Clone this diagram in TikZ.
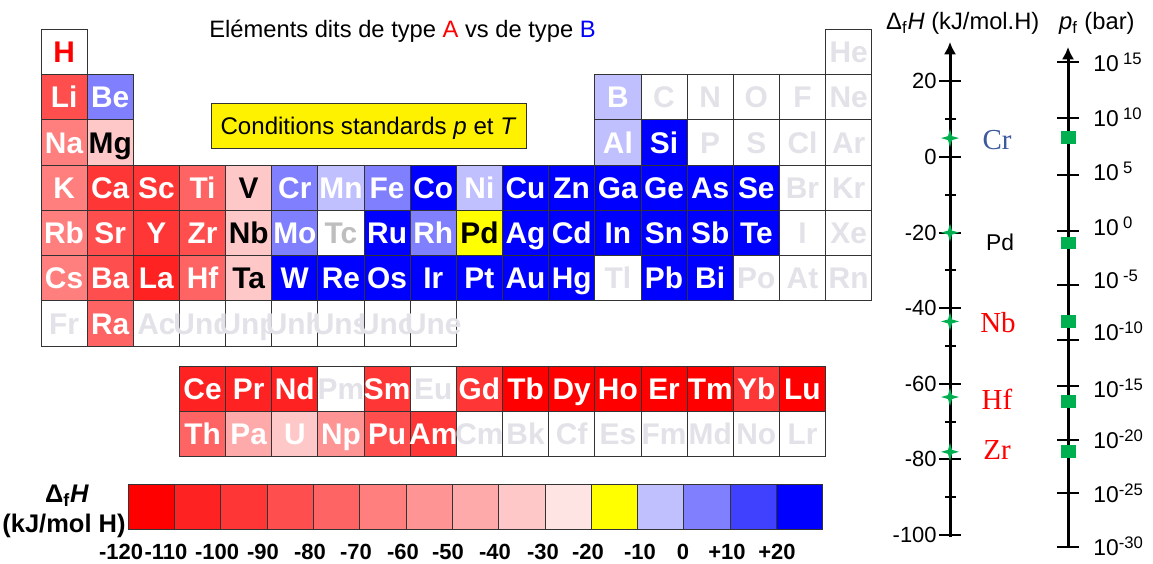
\documentclass[tikz,border=0pt]{standalone}
\usepackage{fontspec}
\setmainfont{Liberation Sans}
\newfontfamily\timesf{Liberation Serif}
\usetikzlibrary{arrows.meta, positioning, shapes.geometric}

% colour scale (kJ/mol H)
\definecolor{s1}{HTML}{FF0000}
\definecolor{s2}{HTML}{FF2222}
\definecolor{s3}{HTML}{FF3636}
\definecolor{s4}{HTML}{FF4E4E}
\definecolor{s5}{HTML}{FF6464}
\definecolor{s6}{HTML}{FF7E7E}
\definecolor{s7}{HTML}{FF9494}
\definecolor{s8}{HTML}{FFAAAA}
\definecolor{s9}{HTML}{FFC8C8}
\definecolor{s10}{HTML}{FFE4E4}
\definecolor{s11}{HTML}{FFFF00}
\definecolor{s12}{HTML}{C0C0FF}
\definecolor{s13}{HTML}{8080FF}
\definecolor{s14}{HTML}{4040FF}
\definecolor{s15}{HTML}{0000FF}
\definecolor{ghost}{HTML}{E2E2E8}
\definecolor{tcgray}{HTML}{BEBEBE}
\definecolor{gridline}{HTML}{333333}
\definecolor{mkgreen}{HTML}{00B050}
\definecolor{crblue}{HTML}{3D5A9E}

\newcommand{\sups}[1]{\raisebox{4pt}{\fontsize{9.5}{9.5}\selectfont #1}}
\newcommand{\pwsp}[1]{10\kern2.5pt\sups{#1}}
\newcommand{\pwtight}[1]{10\sups{#1}}

\begin{document}
\begin{tikzpicture}[x=0.02cm, y=-0.02cm, every node/.style={font=\fontsize{13.5}{16}\selectfont}]
    \tikzstyle{cell}=[draw=gridline,line width=0.5pt,minimum width=0.923cm,minimum height=0.905cm,inner sep=0pt,outer sep=0pt]
    \tikzstyle{sym}=[font=\fontsize{17}{17}\bfseries\selectfont,inner sep=0pt,anchor=base]
    \tikzstyle{sclbl}=[font=\fontsize{12.5}{14}\bfseries\selectfont,inner sep=0pt]
    \tikzstyle{axis}=[line width=1.7pt,-{Latex[length=7pt,width=7pt]}]
    \tikzstyle{tick}=[line width=1.1pt]
    \tikzstyle{gstar}=[star,star points=4,star point ratio=3.2,minimum size=0.36cm,inner sep=0pt,fill=mkgreen]
    \tikzstyle{gsq}=[rectangle,minimum width=0.3cm,minimum height=0.26cm,inner sep=0pt,fill=mkgreen]
    \useasboundingbox (0,0) rectangle (1153,564);
    \fill[white] (0,0) rectangle (1153,564);

    % title and conditions
    \node[anchor=base] (title) at (402.5,37.5) {El\'ements dits de type \textcolor{red}{A} vs de type \textcolor{blue}{B}};
    \node[draw=gridline,fill=yellow,minimum width=6.3cm,minimum height=0.9cm,inner sep=0pt] (cond) at (368.5,125.5) {};
    \node[anchor=base,font=\fontsize{13.7}{16}\selectfont] (condtxt) at ([yshift=-4.9pt]cond.center) {Conditions standards \textit{p} et \textit{T}};

    % periodic table
    \foreach \el/\cc/\rr/\fc/\tc in {
      H/1/1/white/red, He/18/1/white/ghost,
      Li/1/2/s4/white, Be/2/2/s13/white, B/13/2/s12/white, C/14/2/white/ghost, N/15/2/white/ghost, O/16/2/white/ghost, F/17/2/white/ghost, Ne/18/2/white/ghost,
      Na/1/3/s6/white, Mg/2/3/s9/black, Al/13/3/s12/white, Si/14/3/s15/white, P/15/3/white/ghost, S/16/3/white/ghost, Cl/17/3/white/ghost, Ar/18/3/white/ghost,
      K/1/4/s6/white, Ca/2/4/s3/white, Sc/3/4/s3/white, Ti/4/4/s5/white, V/5/4/s9/black, Cr/6/4/s13/white, Mn/7/4/s12/white, Fe/8/4/s13/white, Co/9/4/s15/white, Ni/10/4/s12/white, Cu/11/4/s15/white, Zn/12/4/s15/white, Ga/13/4/s15/white, Ge/14/4/s15/white, As/15/4/s15/white, Se/16/4/s15/white, Br/17/4/white/ghost, Kr/18/4/white/ghost,
      Rb/1/5/s6/white, Sr/2/5/s4/white, Y/3/5/s3/white, Zr/4/5/s4/white, Nb/5/5/s9/black, Mo/6/5/s13/white, Tc/7/5/white/tcgray, Ru/8/5/s15/white, Rh/9/5/s13/white, Pd/10/5/s11/black, Ag/11/5/s15/white, Cd/12/5/s15/white, In/13/5/s15/white, Sn/14/5/s15/white, Sb/15/5/s15/white, Te/16/5/s15/white, I/17/5/white/ghost, Xe/18/5/white/ghost,
      Cs/1/6/s6/white, Ba/2/6/s4/white, La/3/6/s2/white, Hf/4/6/s5/white, Ta/5/6/s9/black, W/6/6/s15/white, Re/7/6/s15/white, Os/8/6/s15/white, Ir/9/6/s15/white, Pt/10/6/s15/white, Au/11/6/s15/white, Hg/12/6/s15/white, Tl/13/6/white/ghost, Pb/14/6/s15/white, Bi/15/6/s15/white, Po/16/6/white/ghost, At/17/6/white/ghost, Rn/18/6/white/ghost,
      Fr/1/7/white/ghost, Ra/2/7/s5/white, Ac/3/7/white/ghost, Unq/4/7/white/ghost, Unp/5/7/white/ghost, Unh/6/7/white/ghost, Uns/7/7/white/ghost, Uno/8/7/white/ghost, Une/9/7/white/ghost,
      Ce/4/8/s2/white, Pr/5/8/s2/white, Nd/6/8/s2/white, Pm/7/8/white/ghost, Sm/8/8/s3/white, Eu/9/8/white/ghost, Gd/10/8/s3/white, Tb/11/8/s1/white, Dy/12/8/s1/white, Ho/13/8/s1/white, Er/14/8/s1/white, Tm/15/8/s1/white, Yb/16/8/s3/white, Lu/17/8/s1/white,
      Th/4/9/s5/white, Pa/5/9/s8/white, U/6/9/s9/white, Np/7/9/s7/white, Pu/8/9/s4/white, Am/9/9/s3/white, Cm/10/9/white/ghost, Bk/11/9/white/ghost, Cf/12/9/white/ghost, Es/13/9/white/ghost, Fm/14/9/white/ghost, Md/15/9/white/ghost, No/16/9/white/ghost, Lr/17/9/white/ghost} {
      \pgfmathsetmacro\xx{41+(\cc-0.5)*46.15}
      \pgfmathsetmacro\yy{29.3+(\rr-0.5)*45.25+20*(\rr>7)}
      \node[cell,fill=\fc] (\el) at (\xx,\yy) {};
      \node[sym,text=\tc] (\el-t) at ([yshift=-6.1pt]\el.center) {\el};
    }

    % legend
    \foreach \i in {1,...,15}
      \node[cell,minimum width=0.926cm,fill=s\i] (sc\i) at ({128.3+(\i-0.5)*46.3},506.7) {};
    \foreach \v/\xx [count=\k] in {-120/121, -110/166, -100/217, -90/263, -80/310, -70/356, -60/403, -50/448, -40/495, -30/543, -20/588, -10/640, 0/683, +10/727, +20/777}
      \node[sclbl] (scl\k) at (\xx,552) {\v};
    \node[anchor=base,font=\fontsize{14.5}{16}\bfseries\selectfont] (legdh) at (67,502) {Δ\textsubscript{f}\textit{H}};
    \node[anchor=base,font=\fontsize{14.5}{16}\bfseries\selectfont] (legunit) at (64,532) {(kJ/mol H)};

    % enthalpy axis
    \node[anchor=base west] (dhtitle) at (880,30) {Δ\textsubscript{f}\textit{H} (kJ/mol.H)};
    \coordinate (dhbot) at (950,537);
    \coordinate (dhtop) at (950,42);
    \draw[axis] (dhbot) -- (dhtop);
    \foreach \v [count=\k] in {20,0,-20,-40,-60,-80,-100} {
      \draw[tick] ({939},{157-3.78*\v}) -- ({961},{157-3.78*\v});
      \node[anchor=east,font=\fontsize{12.5}{14}\selectfont,inner sep=0pt] (dh\k) at (937,{157-3.78*\v}) {\v};
    }
    \foreach \v in {10,-10,-30,-50,-70,-90}
      \draw[tick] (945,{157-3.78*\v}) -- (956,{157-3.78*\v});
    \foreach \nm/\v in {Cr/5, Pd/-20, Nb/-43.5, Hf/-63.5, Zr/-78}
      \node[gstar] (st\nm) at (950,{157-3.78*\v}) {};

    % pressure axis
    \node[anchor=base west] (pftitle) at (1053,30) {\textit{p}\textsubscript{f} (bar)};
    \coordinate (pfbot) at (1068,547);
    \coordinate (pftop) at (1068,47);
    \draw[axis] (pfbot) -- (pftop);
    \foreach \ty/\ly/\lab [count=\k] in {61.7/63/{\pwsp{15}}, 118.3/118/{\pwsp{10}}, 175/172/{\pwsp{5}}, 230.7/227/{\pwsp{0}}, 285/280/{\pwsp{-5}}, 340/332/{\pwtight{-10}}, 386/389/{\pwtight{-15}}, 440/440/{\pwtight{-20}}, 493/494/{\pwtight{-25}}, 547/547/{\pwtight{-30}}} {
      \draw[tick] (1057,\ty) -- (1079,\ty);
      \node[anchor=base west,font=\fontsize{13}{14}\selectfont,inner sep=0pt] (pf\k) at (1093,\ly+8.2) {\lab};
    }
    \foreach \nm/\yy in {Cr/137.7, Pd/243, Nb/321.7, Hf/401.7, Zr/451.7}
      \node[gsq] (sq\nm) at (1068,\yy) {};

    % element labels between the axes
    \node[font=\fontsize{16.5}{18}\timesf\selectfont,text=crblue] (lblCr) at (997,140) {Cr};
    \node[font=\fontsize{13}{15}\selectfont] (lblPd) at (1000,242) {Pd};
    \node[font=\fontsize{16.5}{18}\timesf\selectfont,text=red] (lblNb) at (998,322.7) {Nb};
    \node[font=\fontsize{16.5}{18}\timesf\selectfont,text=red] (lblHf) at (997,399) {Hf};
    \node[font=\fontsize{16.5}{18}\timesf\selectfont,text=red] (lblZr) at (997,450) {Zr};
\end{tikzpicture}
\end{document}
